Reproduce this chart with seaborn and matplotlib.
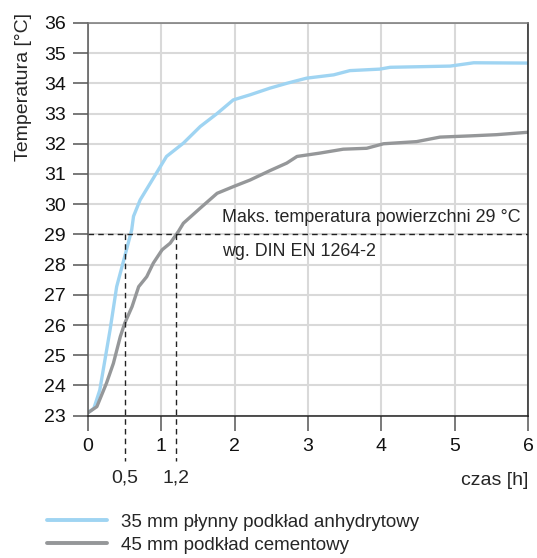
import pandas as pd
import seaborn as sns
import matplotlib.pyplot as plt

# czas [h] i temperatura [°C]
czas_anhydryt = [0.0, 0.08, 0.16, 0.30, 0.39, 0.50, 0.595, 0.62, 0.71, 0.85, 1.07, 1.30, 1.53,
                 1.76, 1.98, 2.21, 2.48, 2.71, 2.98, 3.35, 3.57, 3.98, 4.12, 4.94, 5.26, 5.98, 6.0]
temp_anhydryt = [23.1, 23.25, 23.85, 25.84, 27.27, 28.27, 29.15, 29.6, 30.14, 30.7, 31.58, 32.02, 32.57,
                 33.0, 33.45, 33.62, 33.84, 34.0, 34.17, 34.28, 34.42, 34.47, 34.53, 34.57, 34.68, 34.67, 34.67]

czas_cement = [0.0, 0.12, 0.25, 0.345, 0.44, 0.50, 0.60, 0.69, 0.80, 0.89, 1.01, 1.12, 1.23, 1.30,
               1.53, 1.76, 1.98, 2.21, 2.48, 2.71, 2.85, 3.16, 3.48, 3.80, 4.03, 4.48, 4.80, 5.21,
               5.57, 6.0]
temp_cement = [23.1, 23.3, 24.07, 24.73, 25.62, 26.06, 26.61, 27.27, 27.6, 28.05, 28.49, 28.71, 29.09, 29.37,
               29.87, 30.36, 30.58, 30.8, 31.11, 31.36, 31.58, 31.69, 31.82, 31.85, 32.0, 32.07, 32.22, 32.26,
               32.30, 32.38]

seria = ["35 mm płynny podkład anhydrytowy", "45 mm podkład cementowy"]
kolory = ["#9fd4f2", "#959799"]
t_max = 29
czasy_graniczne = [0.5, 1.2]
etykiety_graniczne = ["0,5", "1,2"]

df = pd.concat([
    pd.DataFrame({"czas": czas_anhydryt, "temp": temp_anhydryt, "seria": seria[0]}),
    pd.DataFrame({"czas": czas_cement, "temp": temp_cement, "seria": seria[1]}),
])

sns.set_style("whitegrid", {"grid.color": "#d9d9d9", "xtick.bottom": True, "ytick.left": True,
                            "xtick.color": "#555555", "ytick.color": "#555555"})
plt.rcParams["font.family"] = ["Liberation Sans Narrow", "Liberation Sans", "DejaVu Sans"]
plt.rcParams["xtick.major.size"] = 11
plt.rcParams["ytick.major.size"] = 11
plt.rcParams["xtick.labelcolor"] = "#111111"
plt.rcParams["ytick.labelcolor"] = "#111111"

fig = plt.figure(figsize=(5.37, 5.58), dpi=100)
ax = fig.add_axes([0.164, 0.255, 0.8192, 0.704])

sns.lineplot(data=df, x="czas", y="temp", hue="seria", palette=kolory, linewidth=2.4,
             ax=ax, legend=False, sort=False)

ax.set_xlim(0, 6)
ax.set_ylim(23, 36)
ax.set_xticks(range(0, 7))
ax.set_yticks(range(23, 37))
ax.grid(True, color="#d9d9d9", linewidth=1.5)
ax.tick_params(axis="both", which="major", direction="out", length=11, width=1.1,
               color="#555555", labelsize=14, left=True, bottom=True, pad=5)
for side, c in zip(["left", "bottom", "top", "right"], ["#555555", "#222222", "#777777", "#222222"]):
    ax.spines[side].set_visible(True)
    ax.spines[side].set_color(c)
    ax.spines[side].set_linewidth(1.1)

ax.set_xlabel("")
ax.set_ylabel("")
fig.text(0.043, 1 - 13 / 558, "Temperatura [°C]", rotation=90, ha="center", va="top", fontsize=14)
ax.text(1.0, -0.165, "czas [h]", transform=ax.transAxes, ha="right", va="center", fontsize=14)

# linia granicy temperatury i czasy jej osiągnięcia
ax.axhline(t_max, color="#222222", linestyle=(0, (4, 3)), linewidth=1)
for tx, lab in zip(czasy_graniczne, etykiety_graniczne):
    ax.plot([tx, tx], [t_max, 21.5], color="#222222", linestyle=(0, (4, 3)), linewidth=1,
            clip_on=False)
    ax.text(tx, 20.95, lab, ha="center", va="center", fontsize=14)

ax.text(1.83, 29.55, "Maks. temperatura powierzchni 29 °C", fontsize=12.9, va="center", ha="left")
ax.text(1.83, 28.45, "wg. DIN EN 1264-2", fontsize=12.9, va="center", ha="left")

uchwyty = [plt.Line2D([], [], color=k, linewidth=2.8) for k in kolory]
fig.legend(uchwyty, seria, loc="upper left", bbox_to_anchor=(0.087, 0.079), frameon=False,
           fontsize=13.5, handlelength=3.2, handletextpad=0.75, labelspacing=0.3,
           borderaxespad=0, borderpad=0)

fig.savefig("out.png", dpi=100)
